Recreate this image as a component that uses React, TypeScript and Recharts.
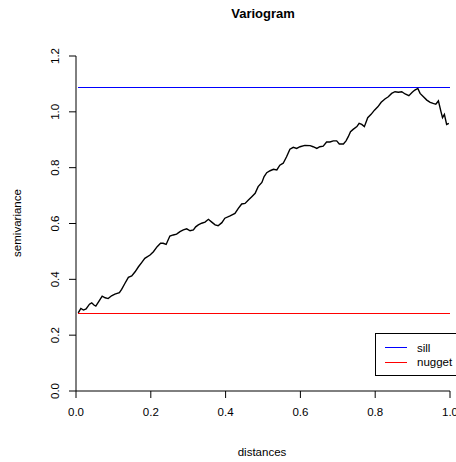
import { LineChart, Line, XAxis, YAxis, ReferenceLine, Legend } from 'recharts'

const distances = [
  0.006, 0.013, 0.02, 0.027, 0.036, 0.042, 0.048, 0.053, 0.062, 0.07,
  0.078, 0.086, 0.095, 0.104, 0.116, 0.122, 0.131, 0.14, 0.149, 0.158,
  0.167, 0.176, 0.184, 0.198, 0.207, 0.217, 0.226, 0.233, 0.241, 0.251,
  0.26, 0.269, 0.278, 0.287, 0.296, 0.305, 0.314, 0.32, 0.327, 0.336,
  0.345, 0.354, 0.363, 0.372, 0.38, 0.39, 0.398, 0.412, 0.425, 0.434,
  0.443, 0.452, 0.461, 0.47, 0.479, 0.487, 0.497, 0.503, 0.51, 0.519,
  0.528, 0.537, 0.545, 0.554, 0.563, 0.572, 0.581, 0.59, 0.599, 0.612,
  0.626, 0.634, 0.644, 0.652, 0.661, 0.67, 0.679, 0.688, 0.697, 0.704,
  0.715, 0.722, 0.728, 0.734, 0.741, 0.751, 0.757, 0.764, 0.771, 0.78,
  0.789, 0.798, 0.807, 0.816, 0.826, 0.835, 0.844, 0.853, 0.862, 0.871,
  0.88, 0.89, 0.899, 0.906, 0.914, 0.92, 0.929, 0.938, 0.947, 0.955,
  0.962, 0.969, 0.976, 0.98, 0.985, 0.991, 0.997,
]

const semivariance = [
  0.28, 0.296, 0.29, 0.294, 0.311, 0.316, 0.308, 0.304, 0.323, 0.34,
  0.334, 0.331, 0.341, 0.347, 0.352, 0.364, 0.386, 0.407, 0.412, 0.427,
  0.445, 0.461, 0.475, 0.487, 0.499, 0.517, 0.529, 0.529, 0.525, 0.555,
  0.559, 0.562, 0.571, 0.577, 0.581, 0.574, 0.577, 0.588, 0.595, 0.601,
  0.605, 0.615, 0.605, 0.595, 0.592, 0.603, 0.619, 0.627, 0.636, 0.654,
  0.67, 0.672, 0.684, 0.696, 0.708, 0.732, 0.747, 0.768, 0.782, 0.789,
  0.794, 0.792, 0.809, 0.816, 0.839, 0.866, 0.873, 0.869, 0.875, 0.88,
  0.879, 0.875, 0.869, 0.875, 0.877, 0.892, 0.892, 0.896, 0.896, 0.885,
  0.885, 0.896, 0.911, 0.929, 0.937, 0.947, 0.959, 0.955, 0.947, 0.979,
  0.991, 1.006, 1.018, 1.034, 1.046, 1.054, 1.066, 1.072, 1.07, 1.072,
  1.064, 1.058, 1.07, 1.078, 1.084, 1.066, 1.054, 1.042, 1.034, 1.03,
  1.027, 1.039, 1.0, 0.979, 0.991, 0.955, 0.959,
]

const sill = 1.088
const nugget = 0.278

const xTicks = [0, 0.2, 0.4, 0.6, 0.8, 1.0]
const yTicks = [0, 0.2, 0.4, 0.6, 0.8, 1.0, 1.2]

const legendItems = [
  { name: 'sill', color: '#0000ff' },
  { name: 'nugget', color: '#ff0000' },
]

const FONT = '"Liberation Sans", Arial, Helvetica, sans-serif'

const data = distances.map((d, i) => ({ d, v: semivariance[i] }))

const XTick = (props: any) => {
  const { x, y, payload } = props
  return (
    <text x={x} y={y + 14} textAnchor="middle" dominantBaseline="central" fontSize={11.5} fontFamily={FONT} fill="#000">
      {payload.value.toFixed(1)}
    </text>
  )
}

const YTick = (props: any) => {
  const { x, y, payload } = props
  const cx = x - 14
  return (
    <text
      x={cx}
      y={y}
      transform={`rotate(-90 ${cx} ${y})`}
      textAnchor="middle"
      dominantBaseline="central"
      fontSize={11.5}
      fontFamily={FONT}
      fill="#000"
    >
      {payload.value.toFixed(1)}
    </text>
  )
}

// legend box drawn like R's legend(): frame, short line, label
const LegendBox = () => (
  <svg width={90} height={43} style={{ display: 'block' }}>
    <rect x={0.5} y={0.5} width={100} height={42} fill="#fff" stroke="#000" strokeWidth={1} />
    {legendItems.map((it, i) => (
      <g key={it.name}>
        <line
          x1={10}
          x2={32}
          y1={14 + i * 15}
          y2={14 + i * 15}
          stroke={it.color}
          strokeWidth={1}
          shapeRendering="crispEdges"
        />
        <text x={42} y={14.5 + i * 14.5} dominantBaseline="central" fontSize={11.5} fontFamily={FONT} fill="#000">
          {it.name}
        </text>
      </g>
    ))}
  </svg>
)

export default function App() {
  return (
    <div style={{ position: 'absolute', left: 0, top: 0, width: 456, height: 462, background: '#fff', overflow: 'hidden' }}>
      <div style={{ position: 'absolute', left: 0, width: 526, top: 6, textAlign: 'center', fontFamily: FONT, fontWeight: 'bold', fontSize: 13 }}>
        Variogram
      </div>
      <div style={{ position: 'absolute', left: 0, width: 524, top: 446, textAlign: 'center', fontFamily: FONT, fontSize: 11.5 }}>
        distances
      </div>
      <div
        style={{
          position: 'absolute',
          left: 17,
          top: 223,
          transform: 'translate(-50%, -50%) rotate(-90deg)',
          fontFamily: FONT,
          fontSize: 11.5,
          whiteSpace: 'nowrap',
        }}
      >
        semivariance
      </div>
      <LineChart width={456} height={462} data={data} margin={{ top: 56, right: 6, bottom: 31, left: 0 }}>
        <XAxis
          dataKey="d"
          type="number"
          domain={[0, 1]}
          ticks={xTicks}
          height={40}
          tickSize={7}
          tickMargin={0}
          axisLine={{ stroke: '#000' }}
          tickLine={{ stroke: '#000' }}
          tick={<XTick />}
          interval={0}
        />
        <YAxis
          type="number"
          domain={[0, 1.2]}
          ticks={yTicks}
          width={76}
          tickSize={7}
          tickMargin={0}
          axisLine={{ stroke: '#000' }}
          tickLine={{ stroke: '#000' }}
          tick={<YTick />}
          interval={0}
        />
        <ReferenceLine
          segment={[{ x: 0.006, y: sill }, { x: 1, y: sill }]}
          stroke="#0000ff"
          strokeWidth={1}
          shapeRendering="crispEdges"
        />
        <ReferenceLine
          segment={[{ x: 0.006, y: nugget }, { x: 1, y: nugget }]}
          stroke="#ff0000"
          strokeWidth={1}
          shapeRendering="crispEdges"
        />
        <Line
          type="linear"
          dataKey="v"
          stroke="#000"
          strokeWidth={1.4}
          dot={false}
          isAnimationActive={false}
        />
        <Legend
          layout="horizontal"
          verticalAlign="middle"
          align="center"
          content={<LegendBox />}
          wrapperStyle={{ position: 'absolute', left: 375, top: 333, width: 90 }}
        />
      </LineChart>
    </div>
  )
}
